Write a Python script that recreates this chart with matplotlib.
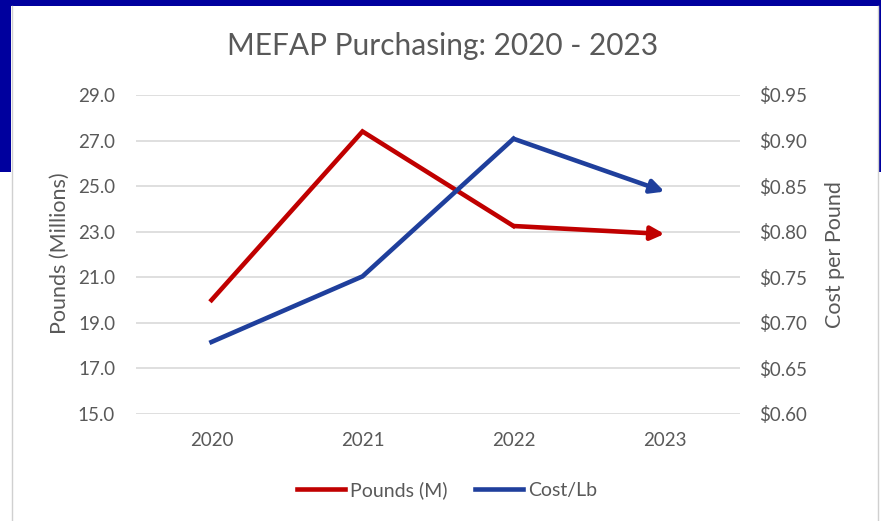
import matplotlib
matplotlib.use("Agg")
import matplotlib.pyplot as plt
from matplotlib.patches import Rectangle
from matplotlib.lines import Line2D
from matplotlib.ticker import FuncFormatter

years = ["2020", "2021", "2022", "2023"]
pounds_m = [20.0, 27.4, 23.25, 22.9]
cost_per_lb = [0.679, 0.751, 0.902, 0.844]
left_ticks = [15.0, 17.0, 19.0, 21.0, 23.0, 25.0, 27.0, 29.0]
right_ticks = [0.60, 0.65, 0.70, 0.75, 0.80, 0.85, 0.90, 0.95]

plt.rcParams['font.family'] = ['Lato', 'DejaVu Sans']
GRAY = '#595959'
RED = '#C00000'
BLUE = '#1F3F9C'
NAVY = '#00009E'

W, H = 881, 521
fig = plt.figure(figsize=(W/100, H/100), dpi=100)
fig.patch.set_facecolor('white')

def px_rect(x0, y0, x1, y1, **kw):
    fig.patches.append(Rectangle((x0/W, 1-y1/H), (x1-x0)/W, (y1-y0)/H,
                                 transform=fig.transFigure, figure=fig, **kw))

# slide background (navy) in the upper part
px_rect(0, 0, W, 6, color=NAVY, lw=0, zorder=0)
px_rect(0, 0, 11, 172, color=NAVY, lw=0, zorder=0)
px_rect(878, 0, W, 172, color=NAVY, lw=0, zorder=0)
# chart frame
fig.lines.append(Line2D([11.5/W, 11.5/W], [0, 1-6/H], transform=fig.transFigure, color='#D0D0D0', lw=1))
fig.lines.append(Line2D([877.5/W, 877.5/W], [0, 1-6/H], transform=fig.transFigure, color='#D0D0D0', lw=1))

ax = fig.add_axes([136/W, 1-414/H, (740-136)/W, (414-95)/H])
ax.set_facecolor('none')
x = list(range(len(years)))
ax.set_xlim(-0.5, 3.5)
ax.set_ylim(15, 29)
ax.set_yticks(left_ticks)
ax.yaxis.set_major_formatter(FuncFormatter(lambda v, p: f"{v:.1f}"))
ax.set_xticks(x)
ax.set_xticklabels(years)
ax.grid(axis='y', color='#D9D9D9', lw=1.2)
ax.set_axisbelow(True)
for s in ax.spines.values():
    s.set_visible(False)
ax.tick_params(length=0, colors=GRAY, labelsize=13.5)
ax.tick_params(axis='x', pad=13)
ax.tick_params(axis='y', pad=15)

ax2 = ax.twinx()
ax2.set_ylim(0.60, 0.95)
ax2.set_yticks(right_ticks)
ax2.yaxis.set_major_formatter(FuncFormatter(lambda v, p: f"${v:.2f}"))
for s in ax2.spines.values():
    s.set_visible(False)
ax2.tick_params(length=0, colors=GRAY, labelsize=13.5, pad=14)

fig.text(60/W, 1-253/H, "Pounds (Millions)", rotation=90, ha='center', va='center',
         color=GRAY, fontsize=15.5)
fig.text(835/W, 1-255/H, "Cost per Pound", rotation=90, ha='center', va='center',
         color=GRAY, fontsize=15.5)

ax.plot(x[:-1], pounds_m[:-1], color=RED, lw=3.3, solid_joinstyle='miter', zorder=3)
ax.annotate('', xy=(x[-1], pounds_m[-1]), xytext=(x[-2], pounds_m[-2]),
            arrowprops=dict(arrowstyle='-|>', color=RED, lw=3.3, mutation_scale=20,
                            shrinkA=0, shrinkB=0), zorder=4)
ax2.plot(x[:-1], cost_per_lb[:-1], color=BLUE, lw=3.3, solid_joinstyle='miter', zorder=3)
ax2.annotate('', xy=(x[-1], cost_per_lb[-1]), xytext=(x[-2], cost_per_lb[-2]),
             arrowprops=dict(arrowstyle='-|>', color=BLUE, lw=3.3, mutation_scale=20,
                             shrinkA=0, shrinkB=0), zorder=4)

fig.text(443/W, 1-46/H, "MEFAP Purchasing: 2020 - 2023", ha='center', va='center',
         fontsize=21.5, color=GRAY)

handles = [Line2D([], [], color=RED, lw=3.3), Line2D([], [], color=BLUE, lw=3.3)]
fig.legend(handles, ["Pounds (M)", "Cost/Lb"], loc='center', bbox_to_anchor=(447/W, 1-490/H),
           ncol=2, frameon=False, fontsize=14, handlelength=2.5, handletextpad=0.25,
           columnspacing=1.4, labelcolor=GRAY)

fig.savefig("out.png", dpi=100)
